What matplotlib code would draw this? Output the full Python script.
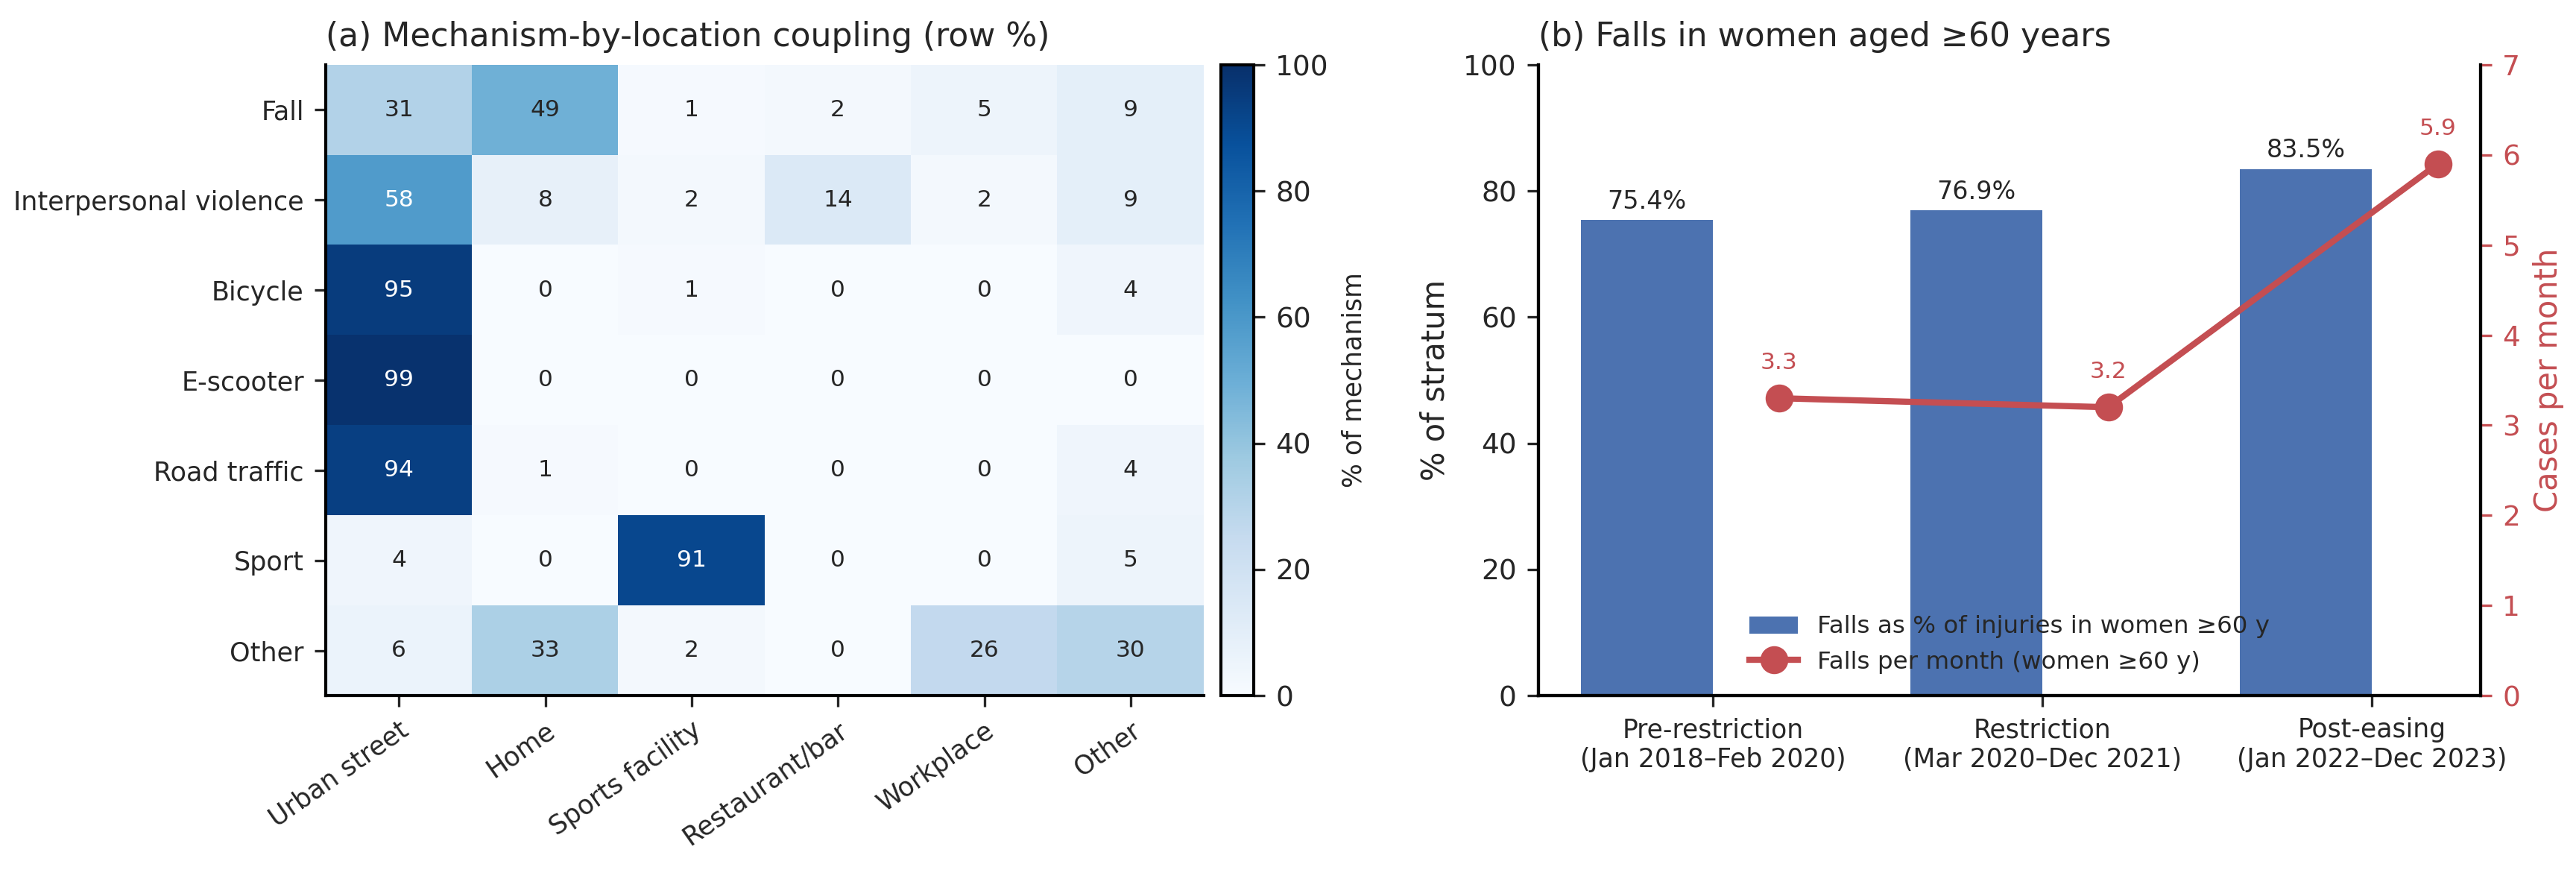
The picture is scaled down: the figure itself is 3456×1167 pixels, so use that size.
import matplotlib
matplotlib.use("Agg")
import matplotlib.pyplot as plt
import numpy as np

# panel (a) data: row % of mechanism by location
mechanisms = ["Fall", "Interpersonal violence", "Bicycle", "E-scooter",
              "Road traffic", "Sport", "Other"]
locations = ["Urban street", "Home", "Sports facility", "Restaurant/bar",
             "Workplace", "Other"]
fall_row = [31, 49, 1, 2, 5, 9]
violence_row = [58, 8, 2, 14, 2, 9]
bicycle_row = [95, 0, 1, 0, 0, 4]
escooter_row = [99, 0, 0, 0, 0, 0]
road_row = [94, 1, 0, 0, 0, 4]
sport_row = [4, 0, 91, 0, 0, 5]
other_row = [6, 33, 2, 0, 26, 30]

# panel (b) data
periods = ["Pre-restriction\n(Jan 2018\u2013Feb 2020)",
           "Restriction\n(Mar 2020\u2013Dec 2021)",
           "Post-easing\n(Jan 2022\u2013Dec 2023)"]
falls_pct = [75.4, 76.9, 83.5]
falls_per_month = [3.3, 3.2, 5.9]

blue = "#4C72B0"
red = "#C44E52"
txt = "#262626"

plt.rcParams["font.family"] = "DejaVu Sans"
plt.rcParams["axes.linewidth"] = 1.0
plt.rcParams["text.color"] = txt
plt.rcParams["axes.labelcolor"] = txt
plt.rcParams["xtick.color"] = txt
plt.rcParams["ytick.color"] = txt

W, H = 3456, 1167
fig = plt.figure(figsize=(W / 300, H / 300), dpi=300)

def box(l, r, t, b):
    return [l / W, (H - b) / H, (r - l) / W, (b - t) / H]

ax1 = fig.add_axes(box(437, 1615, 87, 933))
cax = fig.add_axes(box(1638, 1682, 87, 933))
ax2 = fig.add_axes(box(2064, 3328, 87, 933))

# ---- (a) heatmap
mat = np.array([fall_row, violence_row, bicycle_row, escooter_row,
                road_row, sport_row, other_row], dtype=float)
im = ax1.imshow(mat, cmap="Blues", vmin=0, vmax=100, aspect="auto",
                interpolation="nearest")
for i in range(mat.shape[0]):
    for j in range(mat.shape[1]):
        v = mat[i, j]
        ax1.text(j, i, "%d" % v, ha="center", va="center", fontsize=7.5,
                 color="white" if v > 50 else txt)
ax1.set_xticks(range(len(locations)))
ax1.set_xticklabels(locations, rotation=35, ha="right",
                    rotation_mode="anchor", fontsize=8.4)
ax1.set_yticks(range(len(mechanisms)))
ax1.set_yticklabels(mechanisms, fontsize=8.4)
ax1.spines["top"].set_visible(False)
ax1.spines["right"].set_visible(False)
ax1.set_title("(a) Mechanism-by-location coupling (row %)", loc="left",
              fontsize=10.6)

cb = fig.colorbar(im, cax=cax)
cb.set_ticks([0, 20, 40, 60, 80, 100])
cb.ax.tick_params(labelsize=9)
cb.set_label("% of mechanism", fontsize=8.3)

# ---- (b) bars + line
x = np.arange(len(periods))
bars = ax2.bar(x - 0.2, falls_pct, width=0.4, color=blue,
               label="Falls as % of injuries in women \u226560 y")
ax2.bar_label(bars, fmt="%.1f%%", padding=2, fontsize=8)
ax2.set_ylim(0, 100)
ax2.set_yticks([0, 20, 40, 60, 80, 100])
ax2.set_ylabel("% of stratum", fontsize=10)
ax2.set_xticks(x)
ax2.set_xticklabels(periods, fontsize=8.3)
ax2.tick_params(axis="y", labelsize=9)
ax2.spines["top"].set_visible(False)
ax2.set_title("(b) Falls in women aged \u226560 years", loc="left",
              fontsize=10.6)

ax3 = ax2.twinx()
ln, = ax3.plot(x + 0.2, falls_per_month, color=red, lw=2, marker="o",
               markersize=8, label="Falls per month (women \u226560 y)")
for xi, v in zip(x + 0.2, falls_per_month):
    ax3.annotate("%.1f" % v, (xi, v), xytext=(0, 8), textcoords="offset points",
                 ha="center", va="bottom", fontsize=7.5, color=red)
ax3.set_ylim(0, 7)
ax3.set_yticks(range(8))
ax3.set_ylabel("Cases per month", color=red, fontsize=10)
ax3.tick_params(axis="y", colors=red, labelsize=9)
ax3.spines["top"].set_visible(False)

ax2.legend([bars, ln], [bars.get_label(), ln.get_label()], loc="lower center",
           frameon=False, fontsize=7.8)

fig.savefig("out.png", dpi=300)
